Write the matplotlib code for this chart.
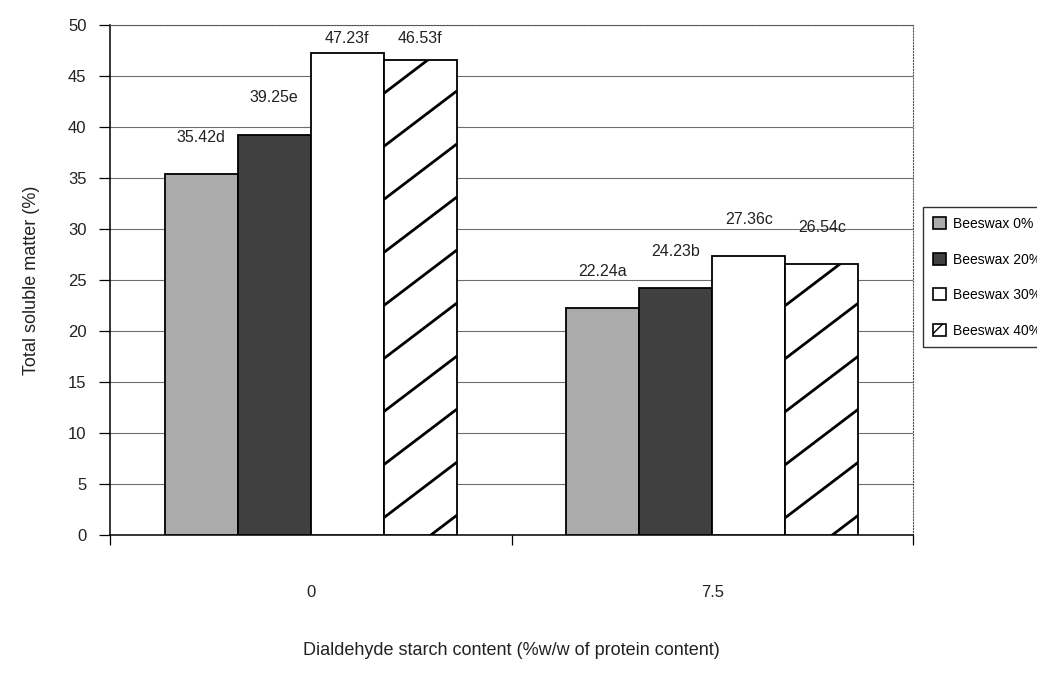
import numpy as np
import matplotlib
matplotlib.use('Agg')
import matplotlib.pyplot as plt
from matplotlib.patches import Patch

plt.rcParams['font.family'] = ['Liberation Sans', 'DejaVu Sans']

# data
categories = ['0', '7.5']
series_names = ['Beeswax 0%', 'Beeswax 20%', 'Beeswax 30%', 'Beeswax 40%']
beeswax_0 = [35.42, 22.24]
beeswax_20 = [39.25, 24.23]
beeswax_30 = [47.23, 27.36]
beeswax_40 = [46.53, 26.54]
letters_0 = ['d', 'a']
letters_20 = ['e', 'b']
letters_30 = ['f', 'c']
letters_40 = ['f', 'c']

all_vals = [beeswax_0, beeswax_20, beeswax_30, beeswax_40]
all_letters = [letters_0, letters_20, letters_30, letters_40]
face = ['#ababab', '#404040', 'white', 'white']

fig = plt.figure(figsize=(10.37, 6.82), dpi=100)
ax = fig.add_axes([0.1061, 0.2155, 0.7743, 0.7478])

x = np.arange(len(categories))
w = 0.182
bars = []
for i, vals in enumerate(all_vals):
    b = ax.bar(x + (i - 1.5) * w, vals, w, color=face[i], edgecolor='black',
               linewidth=1.3, zorder=3)
    bars.append(b)
    for rect, v, let in zip(b, vals, all_letters[i]):
        # labels sit above the bars, kept under the top of the plot
        ty = min(v + 3.6, 48.65)
        ax.text(rect.get_x() + rect.get_width() / 2, ty, f'{v:.2f}{let}',
                ha='center', va='center', fontsize=11.5, color='#222222', zorder=5)

# sparse diagonal hatch lines for 40% bars
for rect in bars[3]:
    x0 = rect.get_x()
    x1 = x0 + rect.get_width()
    slope = 29.9
    y0 = 1.7 - 5.2
    while y0 < rect.get_height() + 1:
        ln, = ax.plot([x0, x1], [y0, y0 + slope * (x1 - x0)], color='black',
                      lw=2.0, zorder=4, solid_capstyle='butt')
        ln.set_clip_path(rect)
        y0 += 5.2

ax.set_xlim(-0.5, 1.5)
ax.set_ylim(0, 50)
ax.set_yticks(np.arange(0, 51, 5))
ax.yaxis.grid(True, color='#6e6e6e', lw=0.8, zorder=0)
ax.set_axisbelow(True)

ax.set_xticks(x)
ax.set_xticklabels(categories, fontsize=12, color='#222222')
ax.tick_params(axis='x', which='major', length=0, pad=36)
ax.set_xticks([-0.5, 0.5, 1.5], minor=True)
ax.tick_params(axis='x', which='minor', length=7, direction='out', width=0.9)
ax.tick_params(axis='y', length=8, width=0.9, labelsize=12, labelcolor='#222222', pad=9)

ax.spines['top'].set_linestyle(':')
ax.spines['top'].set_color('#555555')
ax.spines['right'].set_linestyle(':')
ax.spines['right'].set_color('#555555')
ax.spines['left'].set_linewidth(1.1)
ax.spines['bottom'].set_linewidth(1.1)

ax.set_ylabel('Total soluble matter (%)', fontsize=13, color='#222222', labelpad=20)
ax.set_xlabel('Dialdehyde starch content (%w/w of protein content)', fontsize=13,
              color='#222222', labelpad=30)

handles = [Patch(facecolor=face[i], edgecolor='black', linewidth=1.2,
                 hatch='//' if i == 3 else None) for i in range(4)]
leg = fig.legend(handles, series_names, loc='upper left', bbox_to_anchor=(0.8905, 0.696),
                 fontsize=10, frameon=True, fancybox=False, edgecolor='black',
                 handlelength=0.95, handleheight=0.95, handletextpad=0.45,
                 labelspacing=1.55, borderpad=0.7, borderaxespad=0.0)
leg.get_frame().set_linewidth(1.0)

fig.savefig('out.png', dpi=100)
